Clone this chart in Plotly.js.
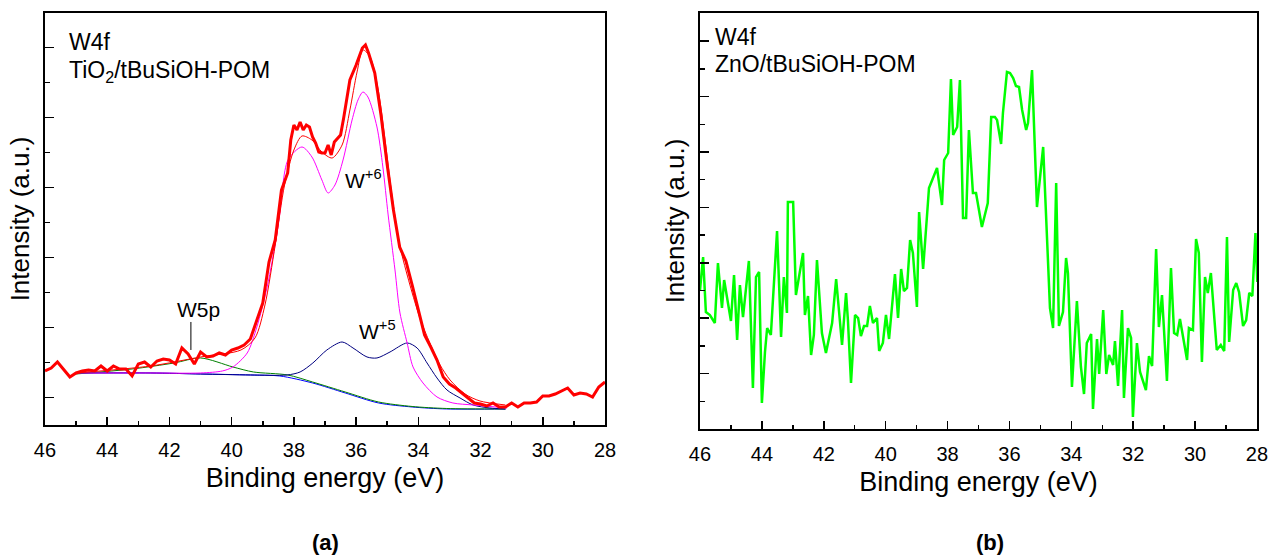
<!DOCTYPE html>
<html>
<head>
<meta charset="utf-8">
<script src="https://cdn.plot.ly/plotly-3.0.1.min.js"></script>
<style>html,body{margin:0;padding:0;background:#fff;}#chart{width:1270px;height:560px;}</style>
</head>
<body>
<div id="chart"></div>
<script>
// ---------- Panel (a): TiO2/tBuSiOH-POM, W4f ----------
const rawA_eV = [46.0,45.8,45.6,45.4,45.2,45.0,44.8,44.6,44.4,44.2,44.0,43.8,43.6,43.4,43.2,43.0,42.8,42.6,42.4,42.2,42.0,41.8,41.6,41.4,41.2,41.0,40.8,40.6,40.4,40.2,40.0,39.8,39.6,39.4,39.2,39.0,38.8,38.6,38.4,38.2,38.1,38.0,37.9,37.8,37.7,37.6,37.5,37.4,37.3,37.2,37.1,37.0,36.9,36.8,36.7,36.6,36.5,36.4,36.2,36.0,35.8,35.7,35.6,35.4,35.2,35.0,34.8,34.6,34.4,34.2,34.0,33.8,33.6,33.4,33.2,33.0,32.8,32.6,32.4,32.2,32.0,31.8,31.6,31.4,31.2,31.0,30.8,30.6,30.4,30.2,30.0,29.8,29.6,29.4,29.2,29.0,28.8,28.6,28.4,28.2,28.0];
const rawA_I  = [54,57,63,55,48,52,54,55,54,59,54,59,56,56,49,61,63,58,64,66,65,61,77,71,61,73,68,69,72,70,75,77,80,86,105,122,163,185,235,252,285,300,295,303,295,300,298,288,282,273,272,272,280,270,283,287,290,307,345,360,377,380,372,352,310,260,215,178,164,140,115,90,78,65,48,41,37,32,27,22,21,19,22,18,18,22,18,22,22,23,29,29,31,34,37,30,32,31,28,38,43];

const envA_eV = [45.0,42.6,41.0,39.7,39.25,38.93,38.6,38.3,38.0,37.74,37.42,37.1,36.77,36.45,36.2,35.97,35.78,35.55,35.3,35.07,34.85,34.6,34.27,33.95,33.63,33.3,32.98,32.5,32.02,31.2];
const envA_I  = [52,59,68,75,87,120,180,240,275,289,285,273,267,280,315,353,375,368,337,285,230,180,140,107,82,60,45,31,24,20];

const bgA_eV = [45.0,42.6,41.0,39.4,38.45,37.4,36.35,35.28,34.2,33.1,31.2];
const bgA_I  = [52,52,51,50,49,42,32,22,18,16,16];

const w5pA_eV = [45.0,43.2,41.85,41.0,39.96,39.3,38.2,37.4,36.35,35.28,34.2,33.1,31.2];
const w5pA_I  = [51,56,62,67,58,53,50,43,33,23,18.5,16.5,16];

const w6A_eV = [45.0,42.6,41.0,40.3,39.96,39.5,39.19,38.86,38.54,38.45,38.19,37.74,37.42,37.1,36.9,36.68,36.42,36.13,35.94,35.78,35.62,35.33,35.14,34.97,34.75,34.59,34.36,34.17,33.85,33.4,32.89,32.24,31.15];
const w6A_I  = [52,52,52,54,58,72,98,138,192,212,265,278,268,245,232,240,265,305,325,333,328,298,258,210,155,112,82,58,42,28,22,20,17];

const w5A_eV = [45.0,42.6,41.0,39.4,38.22,37.8,37.39,36.94,36.45,36.1,35.65,35.33,34.91,34.36,34.04,33.72,33.4,33.08,32.66,32.24,31.7,31.2];
const w5A_I  = [52,52,51,50,50,53,62,75,83,77,68,67,73,82,77,62,47,35,27,20,17,16];

// ---------- Panel (b): ZnO/tBuSiOH-POM, W4f ----------
const rawB_eV = [46.00,45.90,45.81,45.68,45.52,45.42,45.29,45.22,45.00,44.90,44.80,44.71,44.61,44.42,44.29,44.19,44.09,44.00,43.90,43.83,43.71,43.51,43.38,43.29,43.19,43.16,42.99,42.90,42.67,42.61,42.51,42.41,42.32,42.22,42.06,41.93,41.73,41.60,41.41,41.28,41.22,41.12,40.99,40.89,40.80,40.70,40.60,40.51,40.41,40.28,40.21,40.09,39.99,39.89,39.70,39.60,39.50,39.41,39.31,39.21,39.12,38.99,38.92,38.79,38.66,38.60,38.34,38.18,38.11,37.98,37.89,37.82,37.69,37.60,37.50,37.40,37.31,37.18,37.08,36.89,36.70,36.59,36.47,36.40,36.27,36.21,36.08,35.98,35.88,35.79,35.69,35.59,35.46,35.40,35.27,35.11,34.91,34.69,34.59,34.49,34.40,34.27,34.17,34.11,33.98,33.82,33.69,33.59,33.50,33.36,33.30,33.17,33.10,32.97,32.87,32.78,32.65,32.59,32.49,32.36,32.30,32.17,32.07,32.01,31.88,31.78,31.59,31.49,31.39,31.26,31.17,31.07,30.91,30.78,30.68,30.58,30.49,30.26,30.20,30.07,29.97,29.88,29.78,29.68,29.59,29.49,29.30,29.17,29.06,28.97,28.90,28.77,28.67,28.58,28.45,28.35,28.25,28.15,28.05,27.99];
const rawB_I  = [139,172,117,114,106,166,121,149,108,154,89,144,112,168,41,152,157,26,77,101,94,198,92,152,116,227,227,134,176,114,133,74,94,169,96,76,106,150,84,136,109,46,114,111,93,103,103,123,106,111,78,86,114,90,155,111,160,138,141,189,176,122,217,160,215,241,261,224,269,276,350,294,302,349,211,211,299,236,236,202,226,312,312,309,285,316,357,356,351,343,342,319,299,306,359,222,282,121,101,246,103,117,171,156,42,128,62,35,86,95,20,90,55,119,55,74,64,88,43,119,31,101,91,12,86,57,39,73,63,180,102,134,48,161,96,94,110,69,101,99,190,176,67,152,136,156,79,84,78,192,87,139,146,137,103,109,136,133,196,147];

// ---------- Axis ticks ----------
const xTickLabels = ['46','44','42','40','38','36','34','32','30','28'];
const xTickVals = [46,44,42,40,38,36,34,32,30,28];

const FONT = 'Liberation Sans, Arial, sans-serif';

function line(x, y, color, width, xa, ya, spline) {
  return {x: x, y: y, type: 'scatter', mode: 'lines', xaxis: xa, yaxis: ya,
    line: {color: color, width: width, shape: spline ? 'spline' : 'linear', smoothing: 0.8},
    hoverinfo: 'skip'};
}

const traces = [
  line(bgA_eV, bgA_I, '#0000ff', 1, 'x', 'y', true),
  line(w5pA_eV, w5pA_I, '#008000', 1, 'x', 'y', true),
  line(w5A_eV, w5A_I, '#000080', 1, 'x', 'y', true),
  line(w6A_eV, w6A_I, '#ff00ff', 1, 'x', 'y', true),
  line(rawA_eV, rawA_I, '#ff0000', 3, 'x', 'y', false),
  line(envA_eV, envA_I, '#ff0000', 1, 'x', 'y', true),
  line(rawB_eV, rawB_I, '#00ff00', 2.5, 'x2', 'y2', false)
];

function xaxisDef(domain, anchor) {
  return {
    domain: domain, anchor: anchor, range: [46, 28], autorange: false,
    tickmode: 'array', tickvals: xTickVals, ticktext: xTickLabels,
    ticks: 'inside', ticklen: 8, tickwidth: 1.5, tickcolor: '#000',
    minor: {dtick: 1, tick0: 0, ticks: 'inside', ticklen: 4, tickwidth: 1.5, tickcolor: '#000', showgrid: false},
    showline: true, linewidth: 2, linecolor: '#000', mirror: true,
    showgrid: false, zeroline: false,
    tickfont: {family: FONT, size: 20, color: '#000'},
    ticklabelstandoff: 6,
    title: {text: 'Binding energy (eV)', font: {family: FONT, size: 27, color: '#000'}, standoff: 8}
  };
}
function yaxisDef(domain, anchor, range, tick0, dtick, mdtick) {
  return {
    domain: domain, anchor: anchor, range: range, autorange: false,
    showticklabels: false, tick0: tick0, dtick: dtick,
    ticks: 'inside', ticklen: 9, tickwidth: 1.5, tickcolor: '#000',
    minor: {tick0: tick0, dtick: mdtick, ticks: 'inside', ticklen: 5, tickwidth: 1.5, tickcolor: '#000', showgrid: false},
    showline: true, linewidth: 2, linecolor: '#000', mirror: true,
    showgrid: false, zeroline: false,
    title: {text: 'Intensity (a.u.)', font: {family: FONT, size: 26, color: '#000'}, standoff: 6}
  };
}

const layout = {
  width: 1270, height: 560,
  margin: {l: 0, r: 0, t: 0, b: 0},
  paper_bgcolor: '#fff', plot_bgcolor: '#fff',
  showlegend: false,
  xaxis: xaxisDef([0.03543, 0.47638], 'y'),
  yaxis: yaxisDef([0.2411, 0.9768], 'x', [0, 412], 27.3, 70, 35),
  xaxis2: xaxisDef([0.55118, 0.98976], 'y2'),
  yaxis2: yaxisDef([0.2339, 0.9768], 'x2', [0, 416], 0, 55.4, 27.7),
  annotations: [
    {xref: 'x', yref: 'y', x: 45.29, y: 383, text: 'W4f', showarrow: false, xanchor: 'left', yanchor: 'middle', font: {family: FONT, size: 23, color: '#000'}},
    {xref: 'x', yref: 'y', x: 45.29, y: 353, text: 'TiO<sub>2</sub>/tBuSiOH-POM', showarrow: false, xanchor: 'left', yanchor: 'middle', font: {family: FONT, size: 23, color: '#000'}},
    {xref: 'x', yref: 'y', x: 36.42, y: 246, text: 'W<sup>+6</sup>', showarrow: false, xanchor: 'left', yanchor: 'middle', font: {family: FONT, size: 21, color: '#000'}},
    {xref: 'x', yref: 'y', x: 35.97, y: 95, text: 'W<sup>+5</sup>', showarrow: false, xanchor: 'left', yanchor: 'middle', font: {family: FONT, size: 21, color: '#000'}},
    {xref: 'x', yref: 'y', x: 41.05, y: 115, text: 'W5p', showarrow: false, xanchor: 'center', yanchor: 'middle', font: {family: FONT, size: 21, color: '#000'}},
    {xref: 'x2', yref: 'y2', x: 45.58, y: 392, text: 'W4f', showarrow: false, xanchor: 'left', yanchor: 'middle', font: {family: FONT, size: 23, color: '#000'}},
    {xref: 'x2', yref: 'y2', x: 45.58, y: 365, text: 'ZnO/tBuSiOH-POM', showarrow: false, xanchor: 'left', yanchor: 'middle', font: {family: FONT, size: 23, color: '#000'}},
    {xref: 'paper', yref: 'paper', x: 0.256, y: 0.006, text: '<b>(a)</b>', showarrow: false, xanchor: 'center', yanchor: 'bottom', font: {family: FONT, size: 22, color: '#000'}},
    {xref: 'paper', yref: 'paper', x: 0.7795, y: 0.006, text: '<b>(b)</b>', showarrow: false, xanchor: 'center', yanchor: 'bottom', font: {family: FONT, size: 22, color: '#000'}}
  ],
  shapes: [
    {type: 'line', xref: 'x', yref: 'y', x0: 41.31, x1: 41.31, y0: 103, y1: 75, line: {color: '#000', width: 1}}
  ]
};

Plotly.newPlot('chart', traces, layout, {staticPlot: true, displayModeBar: false});
</script>
</body>
</html>
